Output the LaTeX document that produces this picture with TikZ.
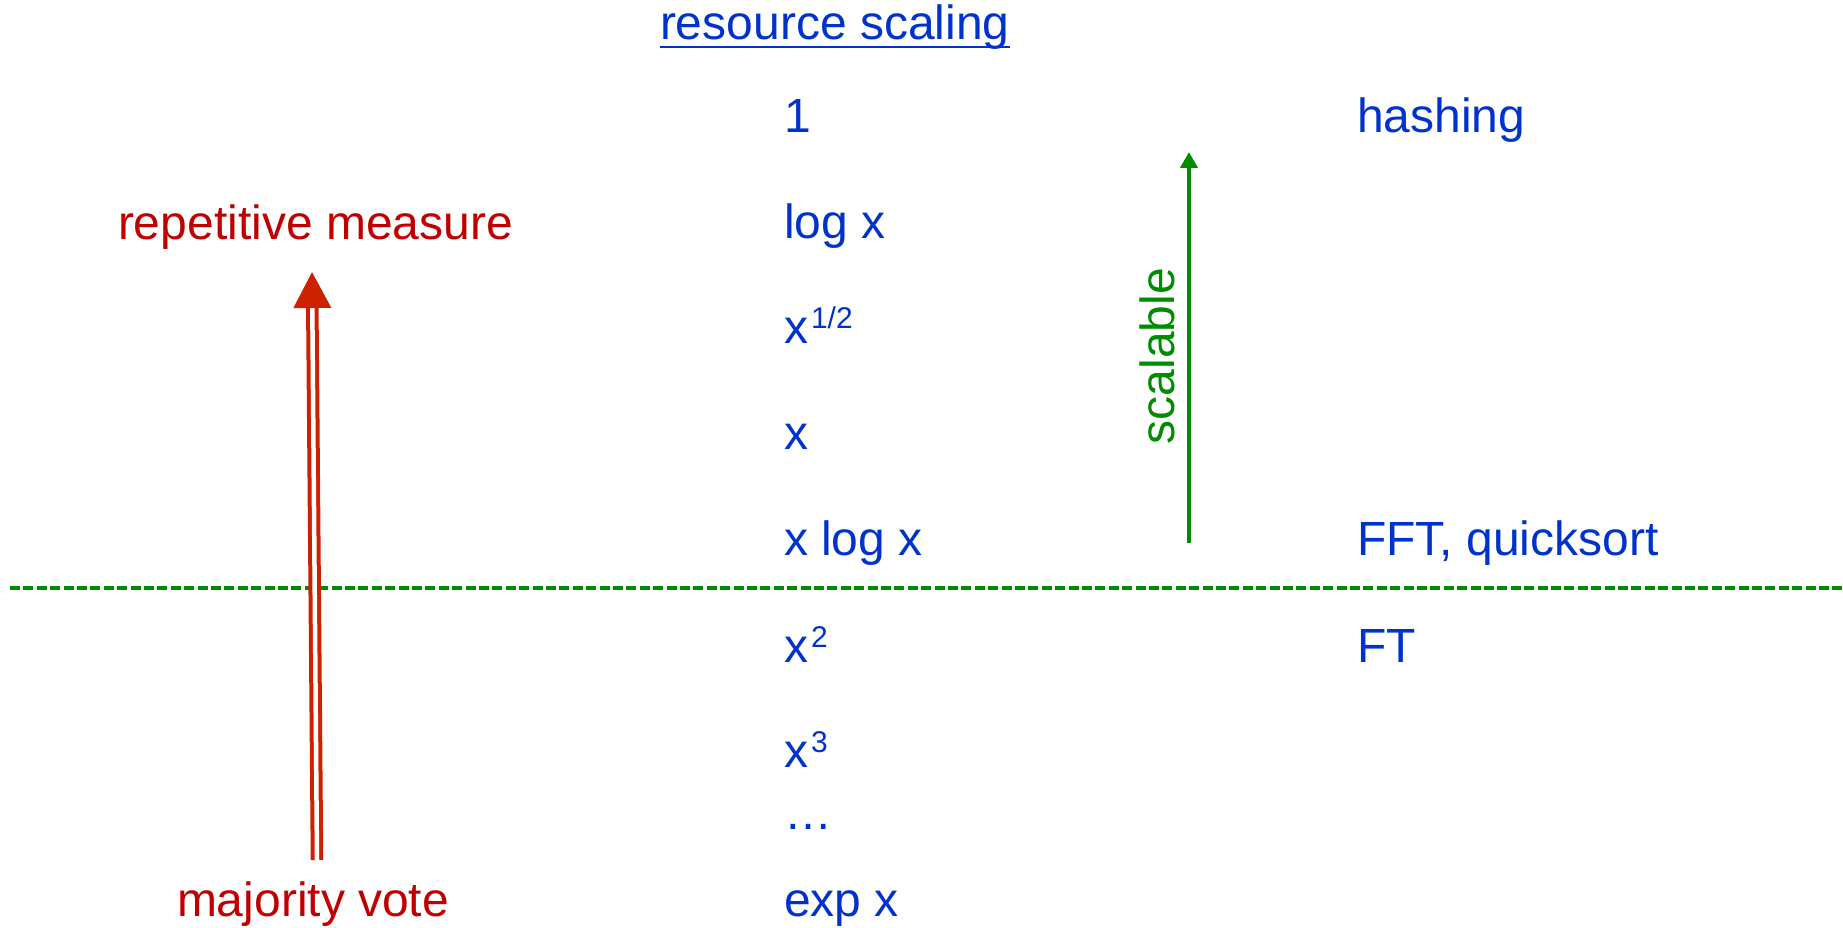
\documentclass[tikz,border=0pt]{standalone}
\usepackage{fontspec}
\setmainfont{Liberation Sans}
\usetikzlibrary{arrows.meta}

\definecolor{scaleblue}{RGB}{0,51,204}
\definecolor{votered}{RGB}{192,0,0}
\definecolor{arrowred}{RGB}{204,34,0}
\definecolor{okgreen}{RGB}{0,140,0}

% raised small index, e.g. the power in x^2
\newcommand\upidx[1]{\kern3pt\raisebox{15pt}{\fontsize{30}{32}\selectfont #1}}

\begin{document}
\begin{tikzpicture}[x=1pt,y=-1pt,
  every node/.style={inner sep=0pt,outer sep=0pt},
  lbl/.style={anchor=base west,font=\fontsize{48}{58}\selectfont,text=scaleblue},
  redlbl/.style={lbl,text=votered}]
\useasboundingbox (0,0) rectangle (1843,928);

% heading
\node[lbl] (title) at (660,40) {resource scaling};
\draw[scaleblue,line width=2.4pt] ([yshift=-7pt]title.base west) -- ([yshift=-7pt]title.base east);

% scaling classes
\node[lbl] (c1)    at (784,133) {1};
\node[lbl] (clog)  at (784,238) {log x};
\node[lbl] (csqrt) at (784,343) {x\upidx{1/2}};
\node[lbl] (clin)  at (784,449) {x};
\node[lbl] (cnlog) at (784,555) {x log x};
\node[lbl] (csq)   at (784,662) {x\upidx{2}};
\node[lbl] (ccube) at (784,767) {x\upidx{3}};
\node[lbl] (cdots) at (784,829) {…};
\node[lbl] (cexp)  at (784,916) {exp x};

% example algorithms
\node[lbl] (hash) at (1357,133) {hashing};
\node[lbl] (fft)  at (1357,555) {FFT, quicksort};
\node[lbl] (ft)   at (1357,662) {FT};

% scalability boundary
\draw[okgreen,line width=3.5pt,dash pattern=on 10pt off 3.4pt] (10,588) -- (1843,588);

% scalable direction
\coordinate (gbot) at (1189,543);
\coordinate (gtop) at (1189,152);
\draw[okgreen,line width=4pt,-{Triangle[length=16pt,width=17pt]}] (gbot) -- (gtop);
\node[lbl,text=okgreen,anchor=base,rotate=90] (scal) at (1174,356) {scalable};

% majority vote -> repetitive measure
\node[redlbl] (rep) at (118,239) {repetitive measure};
\node[redlbl] (mv)  at (177,916) {majority vote};
\coordinate (rbot) at (317,860);
\coordinate (rtop) at (312,272);
\draw[arrowred,line width=4pt,double distance=4.5pt,
      -{Triangle[length=36pt,width=37pt]}] (rbot) -- (rtop);
\end{tikzpicture}
\end{document}
